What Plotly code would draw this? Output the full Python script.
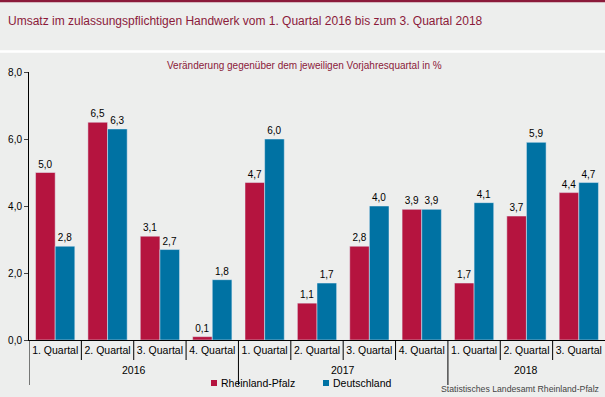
import plotly.graph_objects as go

years = ["2016"] * 4 + ["2017"] * 4 + ["2018"] * 3
quarters = ["1. Quartal", "2. Quartal", "3. Quartal", "4. Quartal",
            "1. Quartal", "2. Quartal", "3. Quartal", "4. Quartal",
            "1. Quartal", "2. Quartal", "3. Quartal"]
rlp = [5.0, 6.5, 3.1, 0.1, 4.7, 1.1, 2.8, 3.9, 1.7, 3.7, 4.4]
de = [2.8, 6.3, 2.7, 1.8, 6.0, 1.7, 4.0, 3.9, 4.1, 5.9, 4.7]
series_names = ["Rheinland-Pfalz", "Deutschland"]
series_colors = ["#B5143F", "#0072A3"]

W, H = 605, 397
ML, MR, MT, MB = 29, 0, 72, 57
PW, PH = W - ML - MR, H - MT - MB
BG = "#EDEEED"
FONT = "Liberation Sans, Arial, sans-serif"


def py(pix):
    return (H - MB - pix) / PH


def px(pix):
    return (pix - ML) / PW


n = len(quarters)
xpos = list(range(n))

fig = go.Figure()
for name, color, vals in zip(series_names, series_colors, [rlp, de]):
    fig.add_trace(go.Bar(x=xpos, y=vals, name=name, marker_color=color,
                         texttemplate="%{y:.1f}", textposition="outside",
                         textfont=dict(size=10, color="#000"), cliponaxis=False,
                         showlegend=False))

shapes = []
annotations = []
# header band and white separator line
shapes.append(dict(type="rect", xref="paper", yref="paper", x0=px(0), x1=px(W),
                   y0=py(0), y1=py(2.2), fillcolor="#8B1A3A", line_width=0, layer="below"))
shapes.append(dict(type="line", xref="paper", yref="paper", x0=px(0), x1=px(W),
                   y0=py(51.5), y1=py(51.5), line=dict(color="#FFFFFF", width=2.5)))
# category separators below axis
for i in range(n):
    long = (i == 0) or (years[i] != years[i - 1])
    xb = i - 0.5
    shapes.append(dict(type="line", xref="x", yref="paper", x0=xb, x1=xb,
                       y0=0, y1=py(385 if long else 360),
                       line=dict(color="#000", width=1)))
# year labels
for yr in dict.fromkeys(years):
    idx = [i for i, y in enumerate(years) if y == yr]
    annotations.append(dict(text=yr, xref="x", yref="paper", x=sum(idx) / len(idx),
                            y=py(370), xanchor="center", yanchor="middle",
                            showarrow=False, font=dict(size=10.5, color="#000")))
# custom legend
leg_x = [211, 323]
for lx, name, color in zip(leg_x, series_names, series_colors):
    shapes.append(dict(type="rect", xref="paper", yref="paper", x0=px(lx), x1=px(lx + 6),
                       y0=py(380), y1=py(386), fillcolor=color, line_width=0))
    annotations.append(dict(text=name, xref="paper", yref="paper", x=px(lx + 8),
                            y=py(383), xanchor="left", yanchor="middle",
                            showarrow=False, font=dict(size=10.5, color="#000")))

annotations += [
    dict(text="Umsatz im zulassungspflichtigen Handwerk vom 1. Quartal 2016 bis zum 3. Quartal 2018",
         xref="paper", yref="paper", x=px(6), y=py(21), xanchor="left", yanchor="middle",
         showarrow=False, font=dict(size=12, color="#8B1A3A")),
    dict(text="Veränderung gegenüber dem jeweiligen Vorjahresquartal in %",
         xref="paper", yref="paper", x=px(304), y=py(65), xanchor="center", yanchor="middle",
         showarrow=False, font=dict(size=10, color="#8B1A3A")),
    dict(text="Statistisches Landesamt Rheinland-Pfalz",
         xref="paper", yref="paper", x=px(601), y=py(389), xanchor="right", yanchor="middle",
         showarrow=False, font=dict(size=8.7, color="#444")),
]

fig.update_layout(
    width=W, height=H,
    margin=dict(l=ML, r=MR, t=MT, b=MB),
    paper_bgcolor=BG, plot_bgcolor=BG,
    font=dict(family=FONT, size=11, color="#000"),
    separators=",.",
    barmode="group", bargap=0.25, bargroupgap=0,
    shapes=shapes,
    annotations=annotations,
    showlegend=False,
    xaxis=dict(showline=True, linecolor="#000", linewidth=1, ticks="",
               tickvals=xpos, ticktext=quarters, tickfont=dict(size=10.5),
               range=[-0.5, n - 0.5], showgrid=False, zeroline=False),
    yaxis=dict(range=[0, 8], dtick=2, tickformat=".1f", ticks="outside", ticklen=4,
               showline=True, linecolor="#000", linewidth=1, showgrid=False,
               zeroline=False, tickfont=dict(size=10)),
)

fig.write_html("out.html", config={"displayModeBar": False})
with open("out.html", encoding="utf-8") as f:
    html = f.read()
html = html.replace("<head>", "<head><style>html,body{margin:0;padding:0;overflow:hidden;background:%s}</style>" % BG, 1)
with open("out.html", "w", encoding="utf-8") as f:
    f.write(html)
